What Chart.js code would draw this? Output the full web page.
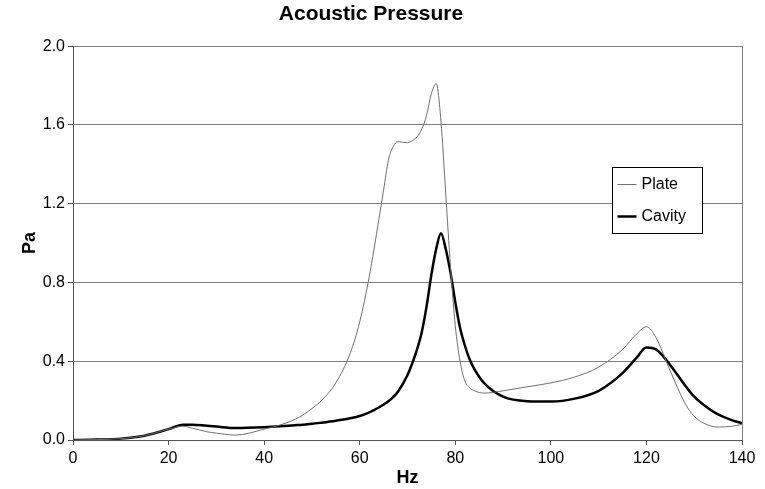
<!DOCTYPE html>
<html>
<head>
<meta charset="utf-8">
<script src="https://cdn.jsdelivr.net/npm/chart.js@4/dist/chart.umd.min.js"></script>
<style>
  html, body { margin: 0; padding: 0; background: #fff; }
  #wrap { width: 765px; height: 489px; }
</style>
</head>
<body>
<div id="wrap"><canvas id="chart" width="765" height="489"></canvas></div>
<script>
// Values
const freqs  = [0, 5, 10, 15, 20, 23, 25, 28, 30, 34, 40, 45, 48, 50, 52, 55, 58, 60, 62, 63, 64, 65, 66, 67, 68, 70, 71, 72, 73, 74, 75, 76, 77, 78, 79, 80, 81, 82, 83, 84, 86, 90, 95, 100, 105, 110, 115, 118, 120, 122, 125, 128, 130, 133, 135, 138, 140];
const plate  = [0, 0.002, 0.007, 0.022, 0.055, 0.07, 0.06, 0.042, 0.035, 0.025, 0.055, 0.09, 0.125, 0.16, 0.2, 0.29, 0.44, 0.6, 0.83, 0.97, 1.12, 1.27, 1.42, 1.49, 1.515, 1.51, 1.52, 1.54, 1.58, 1.65, 1.76, 1.81, 1.62, 1.25, 0.88, 0.58, 0.4, 0.3, 0.265, 0.25, 0.238, 0.25, 0.27, 0.29, 0.32, 0.37, 0.46, 0.54, 0.575, 0.52, 0.35, 0.19, 0.12, 0.075, 0.066, 0.07, 0.08];
const cavity = [0, 0.002, 0.007, 0.022, 0.055, 0.078, 0.078, 0.072, 0.068, 0.061, 0.065, 0.072, 0.078, 0.082, 0.088, 0.098, 0.11, 0.122, 0.14, 0.152, 0.165, 0.18, 0.197, 0.218, 0.245, 0.33, 0.39, 0.46, 0.55, 0.68, 0.84, 0.97, 1.05, 0.97, 0.85, 0.7, 0.57, 0.48, 0.41, 0.36, 0.29, 0.22, 0.197, 0.195, 0.21, 0.25, 0.34, 0.42, 0.47, 0.46, 0.38, 0.28, 0.22, 0.16, 0.13, 0.1, 0.085];
const seriesNames = ['Plate', 'Cavity'];
const yTicks = [0, 0.4, 0.8, 1.2, 1.6, 2.0];
const xTicks = [0, 20, 40, 60, 80, 100, 120, 140];

const FONT = "'Liberation Sans', Arial, sans-serif";

const toPoints = (ys) => freqs.map((f, i) => ({ x: f, y: ys[i] }));

// right border of the plot + boxed legend inside the plot
const frameLegendPlugin = {
  id: 'frameLegend',
  afterDraw: (chart) => {
    const { ctx, chartArea: { right, top, bottom } } = chart;
    ctx.save();
    ctx.strokeStyle = '#808080';
    ctx.lineWidth = 1;
    ctx.beginPath();
    ctx.moveTo(Math.round(right) + 0.5, top);
    ctx.lineTo(Math.round(right) + 0.5, bottom);
    ctx.stroke();

    // legend box
    const bx = 612.5, by = 167.5, bw = 90, bh = 66;
    ctx.fillStyle = '#fff';
    ctx.fillRect(bx, by, bw, bh);
    ctx.strokeStyle = '#000';
    ctx.strokeRect(bx, by, bw, bh);
    ctx.font = '16px ' + FONT;
    ctx.textBaseline = 'middle';
    chart.data.datasets.forEach((ds, i) => {
      const y = by + 16 + i * 32;
      ctx.strokeStyle = ds.borderColor;
      ctx.lineWidth = ds.borderWidth;
      ctx.beginPath();
      ctx.moveTo(bx + 5, Math.round(y) + 0.5);
      ctx.lineTo(bx + 24, Math.round(y) + 0.5);
      ctx.stroke();
      ctx.fillStyle = '#000';
      ctx.fillText(ds.label, bx + 29, y + 1);
    });
    ctx.restore();
  }
};

new Chart(document.getElementById('chart').getContext('2d'), {
  type: 'line',
  data: {
    datasets: [
      {
        label: seriesNames[0],
        data: toPoints(plate),
        borderColor: '#707070',
        borderWidth: 1,
        pointRadius: 0,
        cubicInterpolationMode: 'monotone',
        fill: false
      },
      {
        label: seriesNames[1],
        data: toPoints(cavity),
        borderColor: '#000000',
        borderWidth: 2.5,
        pointRadius: 0,
        cubicInterpolationMode: 'monotone',
        fill: false
      }
    ]
  },
  options: {
    responsive: false,
    animation: false,
    layout: { padding: { left: 0, right: 23, top: 0, bottom: 0 } },
    plugins: {
      legend: { display: false },
      tooltip: { enabled: false },
      title: {
        display: true,
        text: 'Acoustic Pressure',
        color: '#000',
        font: { family: FONT, size: 21, weight: 'bold' },
        padding: { top: 2, bottom: 19 }
      }
    },
    scales: {
      x: {
        type: 'linear',
        min: 0,
        max: 140,
        afterBuildTicks: (scale) => { scale.ticks = xTicks.map(v => ({ value: v })); },
        afterFit: (scale) => { scale.height = 49; },
        ticks: {
          color: '#000',
          font: { family: FONT, size: 16 },
          padding: 4,
          maxRotation: 0
        },
        grid: {
          drawOnChartArea: false,
          drawTicks: true,
          tickLength: 5,
          color: '#555'
        },
        border: { color: '#555', width: 1 },
        title: {
          display: true,
          text: 'Hz',
          color: '#000',
          font: { family: FONT, size: 18, weight: 'bold' },
          padding: { top: 0, bottom: 0 }
        }
      },
      y: {
        min: 0,
        max: 2,
        afterBuildTicks: (scale) => { scale.ticks = yTicks.map(v => ({ value: v })); },
        afterFit: (scale) => { scale.width = 73; },
        ticks: {
          color: '#000',
          font: { family: FONT, size: 16 },
          padding: 3,
          callback: (v) => Number(v).toFixed(1)
        },
        grid: {
          color: '#808080',
          tickColor: '#555',
          tickLength: 5,
          lineWidth: 1
        },
        border: { color: '#555', width: 1 },
        title: {
          display: true,
          text: 'Pa',
          color: '#000',
          font: { family: FONT, size: 18, weight: 'bold' },
          padding: { top: 19, bottom: 0 }
        }
      }
    }
  },
  plugins: [frameLegendPlugin]
});
</script>
</body>
</html>
